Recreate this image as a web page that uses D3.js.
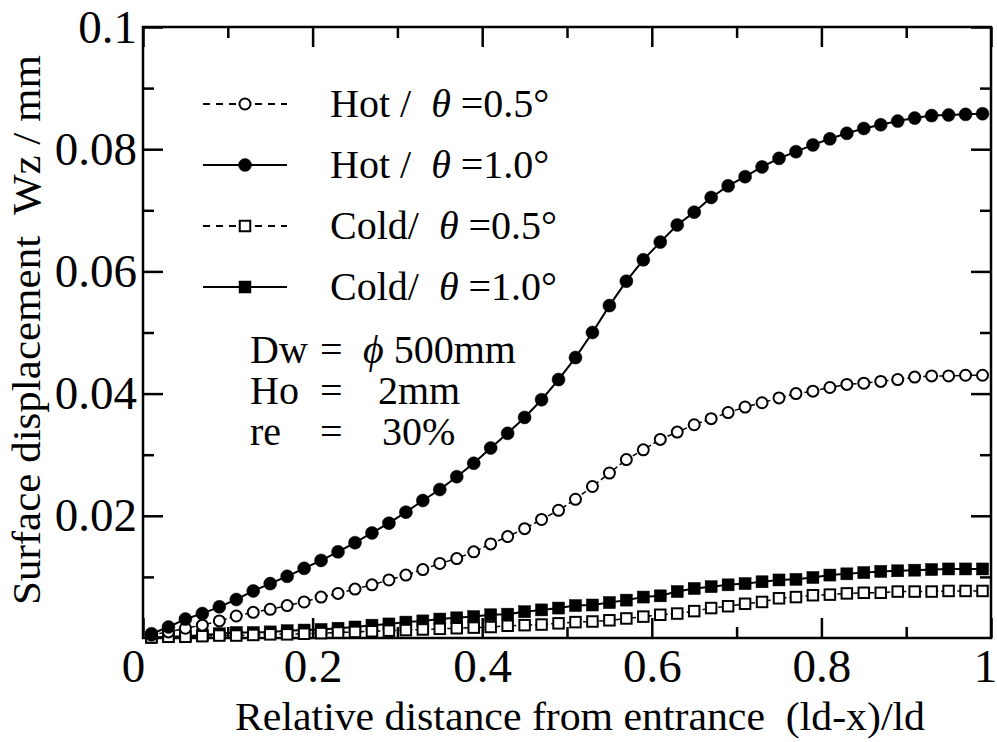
<!DOCTYPE html>
<html>
<head>
<meta charset="utf-8">
<script src="https://cdn.jsdelivr.net/npm/d3@7"></script>
<style>
body { margin: 0; background: #fff; }
svg text { font-family: "Liberation Serif", "DejaVu Serif", serif; fill: #000; white-space: pre; }
</style>
</head>
<body>
<div id="chart"></div>
<script>
// sample positions (ld-x)/ld
var xs = [0.01,0.03,0.05,0.07,0.09,0.11,0.13,0.15,0.17,0.19,
          0.21,0.23,0.25,0.27,0.29,0.31,0.33,0.35,0.37,0.39,
          0.41,0.43,0.45,0.47,0.49,0.51,0.53,0.55,0.57,0.59,
          0.61,0.63,0.65,0.67,0.69,0.71,0.73,0.75,0.77,0.79,
          0.81,0.83,0.85,0.87,0.89,0.91,0.93,0.95,0.97,0.99];

var hot05 = [0.0005,0.0010,0.0016,0.0021,0.0028,0.0036,0.0042,0.0047,0.0053,0.0059,
             0.0067,0.0073,0.0080,0.0087,0.0095,0.0103,0.0112,0.0122,0.0130,0.0141,
             0.0154,0.0166,0.0179,0.0194,0.0209,0.0227,0.0248,0.0270,0.0292,0.0308,
             0.0325,0.0337,0.0349,0.0359,0.0369,0.0378,0.0385,0.0393,0.0400,0.0404,
             0.0410,0.0415,0.0417,0.0420,0.0423,0.0427,0.0429,0.0429,0.0430,0.0430];

var hot10 = [0.0007,0.0018,0.0031,0.0040,0.0051,0.0063,0.0077,0.0089,0.0101,0.0114,
             0.0127,0.0141,0.0156,0.0172,0.0188,0.0206,0.0225,0.0243,0.0264,0.0286,
             0.0311,0.0335,0.0361,0.0390,0.0423,0.0459,0.0500,0.0544,0.0584,0.0619,
             0.0648,0.0676,0.0697,0.0721,0.0740,0.0755,0.0771,0.0785,0.0796,0.0807,
             0.0817,0.0826,0.0834,0.0840,0.0846,0.0851,0.0855,0.0856,0.0857,0.0858];

var cold05 = [0.0001,0.0002,0.0002,0.0003,0.0004,0.0004,0.0005,0.0006,0.0006,0.0007,
              0.0008,0.0009,0.0010,0.0011,0.0012,0.0013,0.0014,0.0015,0.0016,0.0017,
              0.0018,0.0020,0.0021,0.0022,0.0024,0.0026,0.0027,0.0029,0.0032,0.0035,
              0.0038,0.0040,0.0044,0.0049,0.0052,0.0056,0.0059,0.0065,0.0067,0.0070,
              0.0071,0.0073,0.0074,0.0074,0.0076,0.0076,0.0076,0.0077,0.0077,0.0077];

var cold10 = [0.0001,0.0002,0.0003,0.0005,0.0007,0.0009,0.0009,0.0010,0.0012,0.0013,
              0.0014,0.0016,0.0018,0.0021,0.0023,0.0026,0.0028,0.0031,0.0033,0.0035,
              0.0038,0.0039,0.0043,0.0046,0.0049,0.0053,0.0054,0.0058,0.0062,0.0067,
              0.0069,0.0076,0.0081,0.0084,0.0087,0.0089,0.0092,0.0095,0.0096,0.0099,
              0.0103,0.0105,0.0107,0.0109,0.0110,0.0111,0.0112,0.0113,0.0113,0.0113];

// legend rows, top to bottom
var legendNames = ["Hot /  ", "Hot /  ", "Cold/  ", "Cold/  "];
var legendAngles = ["0.5", "1.0", "0.5", "1.0"];
var xTicks = [0, 0.2, 0.4, 0.6, 0.8, 1];
var xMinor = [0.1, 0.3, 0.5, 0.7, 0.9];
var yTicks = [0.02, 0.04, 0.06, 0.08, 0.1];
var yMinor = [0.01, 0.03, 0.05, 0.07, 0.09];
var notes = [["Dw", "=", "\u03d5 500mm"], ["Ho", "=", "2mm"], ["re", "=", "30%"]];

var W = 997, H = 742;
var L = 143, R = 991, T = 27, B = 638;
var FONT = "Liberation Serif, DejaVu Serif, serif";

var svg = d3.select("#chart").append("svg").attr("width", W).attr("height", H)
	.attr("font-family", FONT);

var x = d3.scaleLinear().domain([0, 1]).range([L, R]);
var y = d3.scaleLinear().domain([0, 0.1]).range([B, T]);

// axes, ticks pointing inside
function axisSet(gen, tr, vals, size, labels, pad) {
	var g = svg.append("g").attr("transform", tr)
		.call(gen.tickValues(vals).tickSizeInner(-size).tickSizeOuter(0).tickPadding(pad || 8)
			.tickFormat(labels ? function(d) { return d3.format("~g")(d); } : function() { return ""; }));
	g.attr("font-family", FONT);
	g.select(".domain").remove();
	g.selectAll(".tick line").attr("stroke", "#000").attr("stroke-width", 2.5);
	g.selectAll(".tick text").attr("font-size", 47).attr("fill", "#000");
	return g;
}
var gx = axisSet(d3.axisBottom(x), "translate(0," + B + ")", xTicks, 20, true, 11);
gx.selectAll(".tick text").attr("dx", function(d) { return d == 0 ? -10 : (d == 1 ? -6 : 0); });
axisSet(d3.axisBottom(x), "translate(0," + B + ")", xMinor, 11, false);
axisSet(d3.axisTop(x), "translate(0," + T + ")", xTicks, 20, false);
axisSet(d3.axisTop(x), "translate(0," + T + ")", xMinor, 11, false);
axisSet(d3.axisLeft(y), "translate(" + L + ",0)", yTicks, 20, true, 6);
axisSet(d3.axisLeft(y), "translate(" + L + ",0)", yMinor, 11, false);
axisSet(d3.axisRight(y), "translate(" + R + ",0)", yTicks, 20, false);
axisSet(d3.axisRight(y), "translate(" + R + ",0)", yMinor, 11, false);

svg.append("rect").attr("x", L).attr("y", T).attr("width", R - L).attr("height", B - T)
	.attr("fill", "none").attr("stroke", "#000").attr("stroke-width", 2.5);

// titles
svg.append("text").attr("x", 580).attr("y", 730).attr("text-anchor", "middle")
	.attr("font-size", 40).attr("textLength", 690).attr("lengthAdjust", "spacingAndGlyphs")
	.text("Relative distance from entrance  (ld-x)/ld");
svg.append("text").attr("transform", "translate(40,330) rotate(-90)").attr("text-anchor", "middle")
	.attr("font-size", 40).attr("textLength", 550).attr("lengthAdjust", "spacingAndGlyphs")
	.text("Surface displacement  Wz / mm");

// series, drawn bottom to top
var series = [
	{ vals: cold10, shape: "square", filled: true, dash: null },
	{ vals: cold05, shape: "square", filled: false, dash: "5,3" },
	{ vals: hot05, shape: "circle", filled: false, dash: "5,3" },
	{ vals: hot10, shape: "circle", filled: true, dash: null }
];

var line = d3.line().x(function(d) { return x(d[0]); }).y(function(d) { return y(d[1]); });

function drawMarker(g, shape, filled, cx, cy) {
	if (shape == "circle") {
		g.append("circle").attr("cx", cx).attr("cy", cy).attr("r", filled ? 6.5 : 5.5)
			.attr("fill", filled ? "#000" : "#fff").attr("stroke", "#000").attr("stroke-width", filled ? 0.5 : 2);
	} else {
		var s = filled ? 12 : 10.5;
		g.append("rect").attr("x", cx - s / 2).attr("y", cy - s / 2).attr("width", s).attr("height", s)
			.attr("fill", filled ? "#000" : "#fff").attr("stroke", "#000").attr("stroke-width", filled ? 0.5 : 2);
	}
}

series.forEach(function(s) {
	var pts = xs.map(function(v, i) { return [v, s.vals[i]]; });
	var g = svg.append("g");
	g.append("path").attr("d", line(pts)).attr("fill", "none").attr("stroke", "#000")
		.attr("stroke-width", s.filled ? 2 : 1.5).attr("stroke-dasharray", s.dash);
	pts.forEach(function(p) { drawMarker(g, s.shape, s.filled, x(p[0]), y(p[1])); });
});

// legend
var legendSeries = [2, 3, 1, 0];
legendSeries.forEach(function(si, row) {
	var s = series[si];
	var base = 117 + row * 61;
	var ly = base - 13;
	var g = svg.append("g");
	g.append("line").attr("x1", 203).attr("x2", 287).attr("y1", ly).attr("y2", ly)
		.attr("stroke", "#000").attr("stroke-width", s.filled ? 2 : 1.8).attr("stroke-dasharray", s.dash ? "7,6" : null);
	if (s.dash) {
		g.append("rect").attr("x", 237).attr("y", ly - 4).attr("width", 16).attr("height", 8).attr("fill", "#fff");
	}
	drawMarker(g, s.shape, s.filled, 245, ly);
	var t = g.append("text").attr("x", 330).attr("y", base).attr("font-size", 40)
		.attr("font-family", FONT);
	t.append("tspan").text(legendNames[row]);
	t.append("tspan").attr("font-style", "italic").text("\u03b8");
	t.append("tspan").text(" =" + legendAngles[row] + "\u00b0");
});

// conditions
var noteX = [250, 320, 363];
notes.forEach(function(n, i) {
	var base = 363 + i * 41;
	n.forEach(function(part, j) {
		var xx = noteX[j];
		if (j == 2 && i > 0) xx = i == 1 ? 378 : 382;
		var t = svg.append("text").attr("x", xx).attr("y", base).attr("font-size", 40)
			.attr("font-family", FONT);
		if (part.charAt(0) == "\u03d5") {
			t.append("tspan").attr("font-style", "italic").text("\u03d5");
			t.append("tspan").text(part.substring(1));
		} else {
			t.text(part);
		}
	});
});
</script>
</body>
</html>
